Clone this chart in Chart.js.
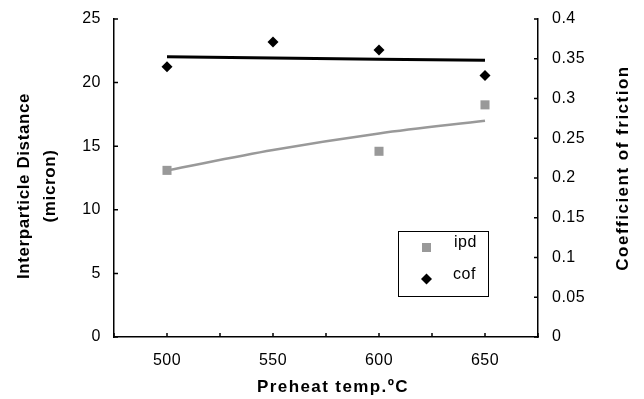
<!DOCTYPE html>
<html>
<head>
<meta charset="utf-8">
<script src="https://cdn.jsdelivr.net/npm/chart.js@4"></script>
<style>
  html, body { margin: 0; padding: 0; background: #fff; }
  #wrap { width: 644px; height: 399px; }
</style>
</head>
<body>
<div id="wrap"><canvas id="chart" width="644" height="399"></canvas></div>
<script>
// preheat temperatures (x)
const temps = [500, 550, 600, 650];
// interparticle distance, micron (no reading at 550)
const ipdTemps = [500, 600, 650];
const ipdValues = [13.1, 14.6, 18.25];
// coefficient of friction
const cofValues = [0.340, 0.371, 0.361, 0.329];
// trend lines as drawn in the figure
const ipdTrend = [13.1, 14.7, 16.0, 17.0];
const cofTrend = [0.3525, 0.351, 0.3495, 0.348];
const xTickLabels = [500, 550, 600, 650];

const FONT = "'Liberation Sans', Arial, sans-serif";
const GRAY = "#999999";

function pairs(xs, ys) {
  return xs.map((x, i) => ({ x: x, y: ys[i] }));
}

function vText(ctx, text, x, y, spacing) {
  ctx.save();
  ctx.letterSpacing = spacing + "px";
  ctx.translate(x, y);
  ctx.rotate(-Math.PI / 2);
  ctx.fillText(text, 0, 0);
  ctx.restore();
}

// fixed axis box sizes, no extra room for label overhang
function fixWidth(w) {
  return (s) => { s.width = w; s.paddingTop = 0; s.paddingBottom = 0; };
}

// ticks inside plot, titles and the boxed legend
const extras = {
  id: "extras",
  beforeDraw(chart) {
    chart.ctx.letterSpacing = "0.5px";
  },
  afterDraw(chart) {
    const ctx = chart.ctx;
    const a = chart.chartArea;
    const sx = chart.scales.x, sy = chart.scales.y, sy2 = chart.scales.y2;
    ctx.save();
    ctx.strokeStyle = "#000";
    ctx.lineWidth = 1.5;
    ctx.beginPath();
    for (let v = 475; v <= 675; v += 25) {
      const px = sx.getPixelForValue(v);
      ctx.moveTo(px, a.bottom);
      ctx.lineTo(px, a.bottom - 4);
    }
    for (let v = 0; v <= 25; v += 5) {
      const py = sy.getPixelForValue(v);
      ctx.moveTo(a.left, py);
      ctx.lineTo(a.left + 4, py);
    }
    for (let v = 0; v <= 0.4001; v += 0.05) {
      const py = sy2.getPixelForValue(v);
      ctx.moveTo(a.right, py);
      ctx.lineTo(a.right - 4, py);
    }
    ctx.stroke();

    // axis titles
    ctx.fillStyle = "#000";
    ctx.font = "bold 17px " + FONT;
    ctx.textAlign = "center";
    ctx.textBaseline = "middle";
    ctx.save();
    ctx.letterSpacing = "1.4px";
    ctx.fillText("Preheat temp.\u00baC", 333, 387);
    ctx.restore();
    vText(ctx, "Interparticle Distance", 24, 186, 0.6);
    vText(ctx, "(micron)", 50, 186, 0.6);
    vText(ctx, "Coefficient of friction", 623, 168, 1.5);

    // legend box
    ctx.lineWidth = 1;
    ctx.strokeRect(398.5, 231.5, 90, 65);
    ctx.fillStyle = GRAY;
    ctx.fillRect(422, 243, 9, 9);
    ctx.fillStyle = "#000";
    ctx.beginPath();
    ctx.moveTo(426.5, 273.5);
    ctx.lineTo(432, 279);
    ctx.lineTo(426.5, 284.5);
    ctx.lineTo(421, 279);
    ctx.closePath();
    ctx.fill();
    ctx.font = "16px " + FONT;
    ctx.textAlign = "left";
    ctx.letterSpacing = "0.5px";
    ctx.fillText("ipd", 454, 243);
    ctx.fillText("cof", 453, 275);
    ctx.restore();
  }
};

new Chart(document.getElementById("chart"), {
  type: "scatter",
  data: {
    datasets: [
      {
        label: "ipd",
        data: pairs(ipdTemps, ipdValues),
        yAxisID: "y",
        pointStyle: "rect",
        pointRadius: 6.4,
        pointHoverRadius: 6.4,
        backgroundColor: GRAY,
        borderWidth: 0
      },
      {
        label: "cof",
        data: pairs(temps, cofValues),
        yAxisID: "y2",
        pointStyle: "rectRot",
        pointRadius: 5.5,
        pointHoverRadius: 5.5,
        backgroundColor: "#000",
        borderWidth: 0
      },
      {
        type: "line",
        label: "ipd trend",
        data: pairs(temps, ipdTrend),
        yAxisID: "y",
        borderColor: GRAY,
        borderWidth: 2.5,
        pointRadius: 0,
        cubicInterpolationMode: "monotone",
        fill: false
      },
      {
        type: "line",
        label: "cof trend",
        data: pairs(temps, cofTrend),
        yAxisID: "y2",
        borderColor: "#000",
        borderWidth: 3,
        pointRadius: 0,
        fill: false
      }
    ]
  },
  options: {
    responsive: false,
    animation: false,
    layout: { padding: { top: 19, left: 0, right: 0, bottom: 0 } },
    plugins: {
      legend: { display: false },
      tooltip: { enabled: false }
    },
    scales: {
      x: {
        type: "linear",
        min: 475,
        max: 675,
        grid: { display: false, drawTicks: false },
        border: { display: true, color: "#000", width: 1.5 },
        ticks: {
          stepSize: 25,
          padding: 14,
          color: "#000",
          font: { family: FONT, size: 16 },
          callback: (v) => xTickLabels.includes(v) ? String(v) : ""
        },
        afterFit: (s) => { s.height = 62; s.paddingLeft = 0; s.paddingRight = 0; }
      },
      y: {
        position: "left",
        min: 0,
        max: 25,
        grid: { display: false, drawTicks: false },
        border: { display: true, color: "#000", width: 1.5 },
        ticks: {
          stepSize: 5,
          padding: 13,
          color: "#000",
          font: { family: FONT, size: 16 }
        },
        afterFit: fixWidth(114)
      },
      y2: {
        position: "right",
        min: 0,
        max: 0.4,
        grid: { display: false, drawTicks: false },
        border: { display: true, color: "#000", width: 1.5 },
        ticks: {
          stepSize: 0.05,
          padding: 14,
          color: "#000",
          font: { family: FONT, size: 16 },
          callback: (v) => String(Math.round(v * 100) / 100)
        },
        afterFit: fixWidth(106)
      }
    }
  },
  plugins: [extras]
});
</script>
</body>
</html>
